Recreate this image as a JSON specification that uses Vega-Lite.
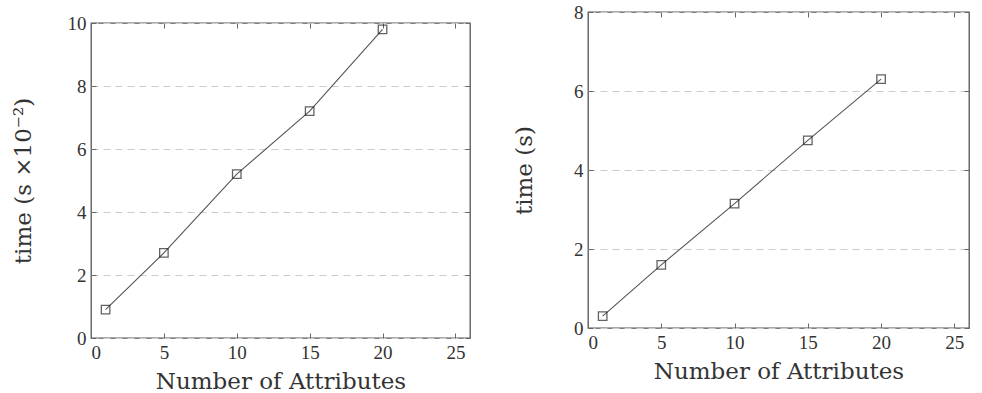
{
  "$schema": "https://vega.github.io/schema/vega-lite/v6.json",
  "background": "white",
  "padding": {"left": 11, "top": 2, "right": 2, "bottom": 0},
  "spacing": 40,
  "config": {
    "font": "Liberation Serif",
    "view": {"stroke": "#555", "strokeWidth": 1.3},
    "axis": {
      "domain": false,
      "tickColor": "#666",
      "tickSize": -5,
      "tickWidth": 1,
      "labelFont": "Liberation Serif",
      "labelFontSize": 19,
      "labelColor": "#333",
      "labelPadding": 10,
      "titleFont": "DejaVu Serif",
      "titleFontSize": 23,
      "titleFontWeight": "normal",
      "titleColor": "#333",
      "grid": false
    }
  },
  "hconcat": [
    {
      "spacing": 0,
      "vconcat": [
        {
          "width": 379,
          "height": 1,
          "view": {"stroke": null},
          "data": {"values": [{"k": 0}]},
          "mark": {"type": "rule", "opacity": 0},
          "encoding": {}
        },
        {
          "width": 379,
          "height": 315,
          "data": {"values": [
            {"n": 1, "t": 0.9},
            {"n": 5, "t": 2.7},
            {"n": 10, "t": 5.2},
            {"n": 15, "t": 7.2},
            {"n": 20, "t": 9.8}
          ]},
          "layer": [
            {
              "mark": {"type": "line", "color": "#555", "strokeWidth": 1.1},
              "encoding": {
                "x": {"field": "n", "type": "quantitative", "scale": {"domain": [0, 25]},
                      "axis": {"title": "Number of Attributes", "values": [0, 5, 10, 15, 20, 25], "titlePadding": 8}},
                "y": {"field": "t", "type": "quantitative", "scale": {"domain": [0, 10]},
                      "axis": {"title": "time (s ×10⁻²)", "values": [0, 2, 4, 6, 8, 10], "grid": true, "gridDash": [7, 5], "gridColor": "#cccccc", "gridWidth": 1, "titlePadding": 32}}
              }
            },
            {
              "mark": {"type": "point", "shape": "square", "size": 72, "filled": false, "stroke": "#222", "strokeWidth": 1.3},
              "encoding": {
                "x": {"field": "n", "type": "quantitative", "axis": {"orient": "top", "labels": false, "title": null, "values": [0, 5, 10, 15, 20, 25]}},
                "y": {"field": "t", "type": "quantitative", "axis": {"orient": "right", "labels": false, "title": null, "values": [0, 2, 4, 6, 8, 10]}}
              }
            }
          ],
          "resolve": {"axis": {"x": "independent", "y": "independent"}}
        }
      ]
    },
    {
      "width": 381,
      "height": 316,
      "data": {"values": [
        {"n": 1, "t": 0.3},
        {"n": 5, "t": 1.6},
        {"n": 10, "t": 3.15},
        {"n": 15, "t": 4.75},
        {"n": 20, "t": 6.3}
      ]},
      "layer": [
        {
          "mark": {"type": "line", "color": "#555", "strokeWidth": 1.1},
          "encoding": {
            "x": {"field": "n", "type": "quantitative", "scale": {"domain": [0, 25]},
                  "axis": {"title": "Number of Attributes", "values": [0, 5, 10, 15, 20, 25], "titlePadding": 8}},
            "y": {"field": "t", "type": "quantitative", "scale": {"domain": [0, 8]},
                  "axis": {"title": "time (s)", "values": [0, 2, 4, 6, 8], "grid": true, "gridDash": [7, 5], "gridColor": "#cccccc", "gridWidth": 1, "titlePadding": 37}}
          }
        },
        {
          "mark": {"type": "point", "shape": "square", "size": 72, "filled": false, "stroke": "#222", "strokeWidth": 1.3},
          "encoding": {
            "x": {"field": "n", "type": "quantitative", "axis": {"orient": "top", "labels": false, "title": null, "values": [0, 5, 10, 15, 20, 25]}},
            "y": {"field": "t", "type": "quantitative", "axis": {"orient": "right", "labels": false, "title": null, "values": [0, 2, 4, 6, 8]}}
          }
        }
      ],
      "resolve": {"axis": {"x": "independent", "y": "independent"}}
    }
  ]
}
